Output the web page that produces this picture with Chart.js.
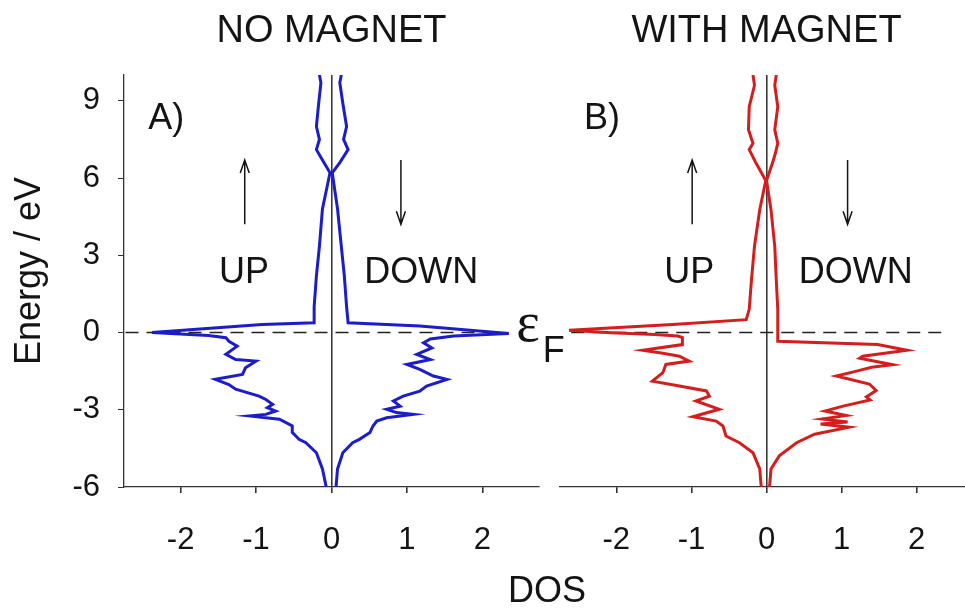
<!DOCTYPE html>
<html>
<head>
<meta charset="utf-8">
<script src="https://cdn.jsdelivr.net/npm/chart.js@4/dist/chart.umd.min.js"></script>
<style>
  html, body { margin: 0; padding: 0; background: #fff; overflow: hidden; }
  body { width: 965px; height: 608px; position: relative; }
  canvas { position: absolute; top: 0; }
  #noMag { left: 0; }
  #withMag { left: 548px; }
</style>
</head>
<body>
<canvas id="noMag" width="600" height="608"></canvas>
<canvas id="withMag" width="432" height="608"></canvas>
<script>
const X_TICKS = [-2, -1, 0, 1, 2];
const Y_TICKS = [-6, -3, 0, 3, 6, 9];
const TITLES = ['NO MAGNET', 'WITH MAGNET'];

// spin-up DOS (drawn to the left), no magnet
const NO_MAG_UP_E   = [10, 9.7, 8.9, 8.0, 7.5, 7.1, 6.7, 6.2, 4.8, 3.35, 2.2, 1.0, 0.38, 0.31, 0.0, -0.12, -0.2, -0.34, -0.53, -0.85, -1.05, -1.11, -1.37, -1.63, -1.82, -2.02, -2.2, -2.47, -2.6, -2.79, -2.92, -3.05, -3.18, -3.24, -3.37, -3.63, -3.88, -4.15, -4.28, -4.67, -5.3, -6];
const NO_MAG_UP_DOS = [-0.16, -0.14, -0.17, -0.2, -0.16, -0.2, -0.12, -0.02, -0.12, -0.16, -0.2, -0.23, -0.23, -0.92, -2.38, -1.63, -1.4, -1.36, -1.25, -1.4, -1.27, -1.0, -1.14, -1.18, -1.54, -1.36, -1.27, -0.96, -0.87, -0.78, -0.85, -0.74, -0.87, -1.09, -0.69, -0.52, -0.52, -0.43, -0.34, -0.2, -0.12, -0.07];

// spin-down DOS (drawn to the right), no magnet
const NO_MAG_DOWN_E   = [10, 9.7, 8.9, 8.0, 7.5, 7.1, 6.6, 6.2, 4.8, 3.35, 2.2, 1.0, 0.38, 0.25, -0.04, -0.14, -0.25, -0.4, -0.6, -0.85, -1.05, -1.24, -1.43, -1.69, -1.82, -2.08, -2.28, -2.47, -2.66, -2.86, -2.98, -3.11, -3.18, -3.31, -3.44, -3.63, -3.88, -4.15, -4.28, -4.67, -5.3, -6];
const NO_MAG_DOWN_DOS = [0.13, 0.11, 0.15, 0.2, 0.16, 0.22, 0.11, 0.01, 0.08, 0.13, 0.17, 0.2, 0.22, 1.17, 2.35, 1.62, 1.31, 1.22, 1.33, 1.13, 1.31, 1.0, 1.17, 1.35, 1.53, 1.26, 1.17, 0.95, 0.82, 0.91, 0.73, 0.86, 1.08, 0.73, 0.6, 0.55, 0.51, 0.37, 0.28, 0.15, 0.08, 0.06];

// spin-up DOS, with magnet
const MAG_UP_E   = [10, 9.6, 8.77, 7.87, 7.35, 7.1, 6.58, 5.9, 4.77, 3.35, 2.05, 0.9, 0.5, 0.31, 0.09, -0.01, -0.08, -0.14, -0.2, -0.47, -0.69, -0.81, -0.92, -1.11, -1.24, -1.56, -1.89, -2.08, -2.27, -2.47, -2.66, -2.98, -3.27, -3.44, -3.63, -4.02, -4.28, -4.67, -5.3, -6];
const MAG_UP_DOS = [-0.18, -0.16, -0.23, -0.24, -0.18, -0.23, -0.14, -0.01, -0.09, -0.16, -0.2, -0.23, -0.27, -1.25, -2.63, -2.07, -1.49, -1.18, -1.12, -1.12, -1.65, -1.38, -1.16, -1.03, -1.34, -1.38, -1.52, -1.16, -0.8, -0.76, -0.94, -0.63, -0.98, -0.67, -0.58, -0.54, -0.36, -0.18, -0.09, -0.07];

// spin-down DOS, with magnet
const MAG_DOWN_E   = [10, 9.6, 8.77, 7.87, 7.35, 6.98, 6.58, 5.9, 4.77, 3.35, 2.05, 0.9, -0.34, -0.47, -0.69, -0.92, -1.0, -1.25, -1.35, -1.5, -1.69, -2.0, -2.25, -2.5, -2.62, -2.86, -3.05, -3.22, -3.36, -3.48, -3.55, -3.68, -3.95, -4.28, -4.79, -5.3, -6];
const MAG_DOWN_DOS = [0.13, 0.11, 0.15, 0.11, 0.15, 0.12, 0.08, 0.0, 0.06, 0.11, 0.13, 0.15, 0.15, 1.48, 1.87, 1.28, 1.24, 1.68, 1.4, 1.2, 0.93, 1.37, 1.46, 1.33, 1.38, 1.02, 0.78, 1.06, 0.74, 1.08, 0.72, 1.1, 0.64, 0.4, 0.17, 0.06, 0.04];

// Fermi level dashed line extent (DOS units) in each panel
const FERMI_A = [-2.73, 2.28];
const FERMI_B = [-2.6, 2.33];

const FONT = '"Liberation Sans", Arial, Helvetica, sans-serif';
const INK = '#141414';

const pts = (es, ds) => es.map((e, i) => ({ x: ds[i], y: e }));

function curve(es, ds, color) {
  return { data: pts(es, ds), borderColor: color, borderWidth: 3, showLine: true, pointRadius: 0, fill: false, order: 1 };
}

function fermiLine(range) {
  return {
    data: range.map(x => ({ x, y: 0 })),
    borderColor: '#222', borderWidth: 1.6, borderDash: [13, 8],
    showLine: true, pointRadius: 0, order: 2,
  };
}

function arrow(ctx, x, yFrom, yTip) {
  const d = yTip < yFrom ? 1 : -1;
  ctx.beginPath();
  ctx.moveTo(x, yFrom); ctx.lineTo(x, yTip);
  ctx.moveTo(x - 4.5, yTip + d * 13); ctx.lineTo(x, yTip); ctx.lineTo(x + 4.5, yTip + d * 13);
  ctx.stroke();
}

// titles, panel letter, spin labels, arrows and the axis captions
const decor = {
  id: 'decor',
  afterDatasetsDraw(chart, args, o) {
    const { ctx } = chart;
    const px = v => chart.scales.x.getPixelForValue(v);
    const py = v => chart.scales.y.getPixelForValue(v);
    ctx.save();
    ctx.fillStyle = INK;
    ctx.strokeStyle = INK;
    ctx.lineWidth = 1.5;
    ctx.textBaseline = 'middle';

    ctx.textAlign = 'center';
    ctx.font = '38px ' + FONT;
    ctx.fillText(o.title, px(0), 32);

    ctx.font = '36px ' + FONT;
    ctx.textAlign = 'left';
    ctx.fillText(o.letter, px(-2.43), py(8.3));
    ctx.textAlign = 'center';
    ctx.fillText('UP', px(o.upX), py(2.3));
    ctx.fillText('DOWN', px(o.downX), py(2.3));

    arrow(ctx, px(o.upArrow), py(4.2), py(6.7));
    arrow(ctx, px(o.downArrow), py(6.7), py(4.2));

    if (o.axisText) {
      ctx.textAlign = 'left';
      ctx.font = '56px "Liberation Serif", "Times New Roman", serif';
      ctx.fillText('\u03b5', px(2.45), py(0.25));
      ctx.font = '36px ' + FONT;
      ctx.fillText('F', px(2.8), py(-0.75));

      ctx.textAlign = 'center';
      ctx.font = '36px ' + FONT;
      ctx.fillText('DOS', 547, 592);

      ctx.translate(30, 271);
      ctx.rotate(-Math.PI / 2);
      ctx.fillText('Energy / eV', 0, 0);
    }
    ctx.restore();
  }
};

function scales(showY) {
  return {
    x: {
      type: 'linear', min: -2.75, max: 2.75,
      afterBuildTicks: s => { s.ticks = X_TICKS.map(value => ({ value })); },
      afterFit: s => { s.height = 121; },
      ticks: { color: INK, font: { family: FONT, size: 31 }, padding: 29, maxRotation: 0 },
      grid: {
        color: c => (c.tick && c.tick.value === 0 ? '#3a3a3a' : 'rgba(0,0,0,0)'),
        lineWidth: 1.6, tickColor: '#333', tickLength: 6,
      },
      border: { display: true, color: '#333', width: 1.3 },
    },
    y: {
      type: 'linear', min: -6, max: 10, display: showY,
      afterBuildTicks: s => { s.ticks = Y_TICKS.map(value => ({ value })); },
      afterFit: s => { s.width = showY ? 124 : 0; },
      ticks: { color: INK, font: { family: FONT, size: 31 }, padding: 18 },
      grid: { color: 'rgba(0,0,0,0)', tickColor: '#333', tickLength: 6 },
      border: { display: true, color: '#333', width: 1.3 },
    },
  };
}

function panel(id, datasets, padding, showY, decorOpts) {
  new Chart(document.getElementById(id), {
    type: 'scatter',
    data: { datasets },
    options: {
      responsive: false, animation: false,
      layout: { padding },
      plugins: { legend: { display: false }, tooltip: { enabled: false }, decor: decorOpts },
      scales: scales(showY),
    },
    plugins: [decor],
  });
}

panel('noMag', [
  curve(NO_MAG_UP_E, NO_MAG_UP_DOS, '#1c1cc8'),
  curve(NO_MAG_DOWN_E, NO_MAG_DOWN_DOS, '#1c1cc8'),
  fermiLine(FERMI_A),
], { top: 75, right: 61, left: 0, bottom: 0 }, true,
  { title: TITLES[0], letter: 'A)', upX: -1.16, downX: 1.19, upArrow: -1.15, downArrow: 0.92, axisText: true });

panel('withMag', [
  curve(MAG_UP_E, MAG_UP_DOS, '#d41e1e'),
  curve(MAG_DOWN_E, MAG_DOWN_DOS, '#d41e1e'),
  fermiLine(FERMI_B),
], { top: 75, right: 7, left: 12, bottom: 0 }, false,
  { title: TITLES[1], letter: 'B)', upX: -1.03, downX: 1.19, upArrow: -0.99, downArrow: 1.08, axisText: false });
</script>
</body>
</html>
